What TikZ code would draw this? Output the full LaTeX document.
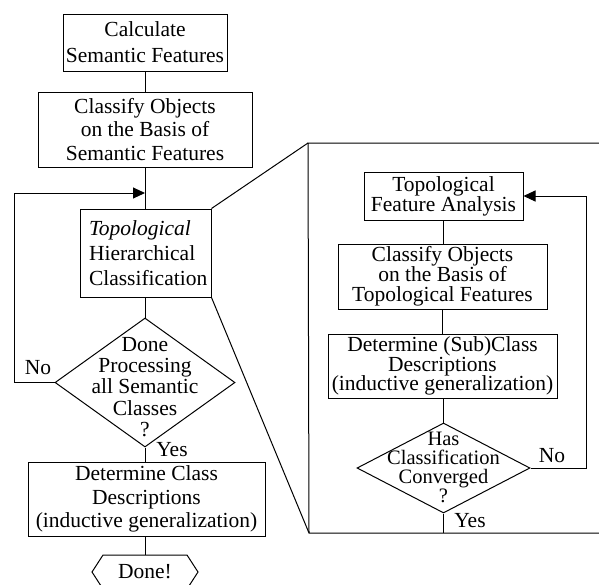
\documentclass[tikz,border=0pt]{standalone}
\usepackage{fontspec}
\setmainfont{Liberation Serif}
\usetikzlibrary{shapes.geometric,arrows.meta}
\begin{document}
\begin{tikzpicture}[x=1pt,y=-1pt,
  line width=1pt,
  box/.style={draw, line width=1pt, inner sep=0pt, align=center},
  dia/.style={draw, diamond, line width=1pt, inner sep=0pt},
  txt/.style={inner sep=0pt, align=center},
  arr/.style={-{Triangle[length=12pt,width=11pt]}},
  every node/.style={font=\fontsize{21.5}{24}\selectfont}]
\fill[white] (0,0) rectangle (599,584);
\useasboundingbox (0,0) rectangle (599,584);
\begin{scope}
\clip (0,0) rectangle (599,584);
% left column
\node[box, minimum width=164pt, minimum height=57pt, font=\fontsize{21.5}{26}\selectfont] (b1) at (145,42.5) {Calculate\\Semantic Features};
\node[box, minimum width=214pt, minimum height=75pt, font=\fontsize{21.5}{23.5}\selectfont] (b2) at (145,129.5) {Classify Objects\\on the Basis of\\Semantic Features};
\node[box, minimum width=131pt, minimum height=88pt, align=left, text width=113pt, inner xsep=9pt, font=\fontsize{21.5}{25}\selectfont] (b3) at (145.5,253) {\textit{Topological}\\Hierarchical\\Classification};
\node[dia, minimum width=180pt, minimum height=129pt] (d1) at (145,382.5) {};
\node[txt, font=\fontsize{21.5}{21.2}\selectfont] (t1) at (145,387) {Done\\Processing\\all Semantic\\Classes\\?};
\node[box, minimum width=237pt, minimum height=74pt, font=\fontsize{21.5}{23.5}\selectfont] (b4) at (146.5,499) {Determine Class\\Descriptions\\(inductive generalization)};
\node[txt] (done) at (145,572) {Done!};
\coordinate (donetop) at (145,555);
\draw (done.center) +(-53,0) -- +(-42,-17) -- +(42,-17) -- +(53,0) -- +(42,17) -- +(-42,17) -- cycle;
\node[txt] (no1) at (38,368) {No};
\node[txt] (yes1) at (172,450) {Yes};
% left connectors
\coordinate (jn) at (145,193);
\draw (b1.south) -- (b1.south |- b2.north);
\draw (b2.south -| jn) -- (jn |- b3.north);
\draw[arr] (d1.west) -- ++(-40,0) |- (jn);
\draw (b3.south -| d1.north) -- (d1.north);
\draw (d1.south) -- (d1.south |- b4.north);
\draw (b4.south -| donetop) -- (donetop);
% zoom panel
\coordinate (ptl) at (308,143);
\coordinate (pbl) at (309,533);
\coordinate (ptr) at (600,143);
\coordinate (pbr) at (600,533);
\draw (ptr) -- (ptl) -- (pbl) -- (pbr);
\draw (b3.north east) -- (ptl);
\draw (b3.south east) -- (pbl);
% right column
\node[box, minimum width=159pt, minimum height=48pt, font=\fontsize{21.5}{20}\selectfont] (ba) at (443.5,196) {Topological\\Feature Analysis};
\node[box, minimum width=209pt, minimum height=65pt, font=\fontsize{21.5}{20}\selectfont] (bb) at (442.5,276.5) {Classify Objects\\on the Basis of\\Topological Features};
\node[box, minimum width=229pt, minimum height=64pt, font=\fontsize{21.5}{19.5}\selectfont] (bc) at (442.5,366) {Determine (Sub)Class\\Descriptions\\(inductive generalization)};
\node[dia, minimum width=173pt, minimum height=90pt] (d2) at (443.5,468) {};
\node[txt, font=\fontsize{20.5}{19}\selectfont] (t2) at (443.5,467) {Has\\Classification\\Converged\\?};
\node[txt] (no2) at (552,456) {No};
\node[txt] (yes2) at (470,521) {Yes};
\draw (ba.south) -- (ba.south |- bb.north);
\draw (bb.south) -- (bb.south |- bc.north);
\draw (bc.south -| d2.north) -- (d2.north);
\draw[arr] (d2.east) -- (586,468) |- (ba.east);
\draw (d2.south) -- (d2.south |- pbl);
\end{scope}
\end{tikzpicture}
\end{document}
